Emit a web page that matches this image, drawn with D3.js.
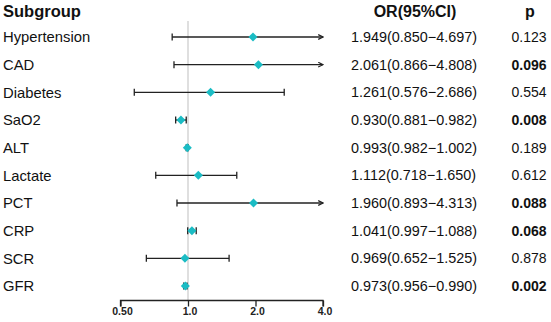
<!DOCTYPE html>
<html><head><meta charset="utf-8">
<script src="https://cdn.jsdelivr.net/npm/d3@7"></script>
<style>body{margin:0;background:#fff}svg{display:block;font-family:"Liberation Sans",Arial,sans-serif}</style>
</head><body><svg id="c" width="551" height="322"></svg>
<script>
const subgroups = ["Hypertension","CAD","Diabetes","SaO2","ALT","Lactate","PCT","CRP","SCR","GFR"];
const orValues = [1.949,2.061,1.261,0.930,0.993,1.112,1.960,1.041,0.969,0.973];
const lowerCI = [0.850,0.866,0.576,0.881,0.982,0.718,0.893,0.997,0.652,0.956];
const upperCI = [4.697,4.808,2.686,0.982,1.002,1.650,4.313,1.088,1.525,0.990];
const orLabels = ["1.949(0.850\u22124.697)","2.061(0.866\u22124.808)","1.261(0.576\u22122.686)","0.930(0.881\u22120.982)","0.993(0.982\u22121.002)","1.112(0.718\u22121.650)","1.960(0.893\u22124.313)","1.041(0.997\u22121.088)","0.969(0.652\u22121.525)","0.973(0.956\u22120.990)"];
const pValues = ["0.123","0.096","0.554","0.008","0.189","0.612","0.088","0.068","0.878","0.002"];
const xTicks = [0.5,1,2,4];
const xTickLabels = ["0.50","1.0","2.0","4.0"];

const svg = d3.select("#c");
const x = d3.scaleLog().base(2).domain([0.5,4]).range([120.5,323]);
const y = d3.scalePoint().domain(subgroups).range([37,286]);
const ink = "#222";
const cyan = "#1bbcc4";

// reference line
svg.append("line").attr("x1",x(1)).attr("x2",x(1)).attr("y1",21).attr("y2",300)
  .attr("stroke","#d4d4d4").attr("stroke-width",1.5);

// axis
const axis = d3.axisBottom(x).tickValues(xTicks).tickFormat((d,i)=>xTickLabels[i]).tickSize(6).tickSizeOuter(0);
const ag = svg.append("g").attr("transform","translate(0,300.5)").call(axis);
ag.select(".domain").attr("stroke",ink).attr("stroke-width",1.3).attr("d",`M${x(0.5)},6V0H${x(4)}V6`);
ag.selectAll(".tick line").attr("stroke",ink).attr("stroke-width",1.3);
ag.selectAll(".tick text").attr("font-size",10.5).attr("font-weight","bold").attr("fill",ink).attr("dy","0.5em").attr("dx",1.5)
  .attr("font-family","'Liberation Sans',Arial,sans-serif");

// arrow marker
const defs = svg.append("defs");
defs.append("marker").attr("id","arr").attr("viewBox","0 0 10 10").attr("refX",9).attr("refY",5)
  .attr("markerWidth",6).attr("markerHeight",6).attr("markerUnits","userSpaceOnUse").attr("orient","auto")
  .append("path").attr("d","M1,1L9,5L1,9").attr("fill","none").attr("stroke",ink).attr("stroke-width",2);

const rows = svg.append("g").selectAll("g").data(subgroups).join("g");
rows.each(function(s,i){
  const g = d3.select(this);
  const yy = y(s);
  const lo = Math.max(lowerCI[i],0.5), hi = Math.min(upperCI[i],4);
  const clipped = upperCI[i] > 4;
  g.append("line").attr("x1",x(lo)).attr("x2",x(hi)).attr("y1",yy).attr("y2",yy)
    .attr("stroke",ink).attr("stroke-width",1.3).attr("marker-end",clipped?"url(#arr)":null);
  g.append("line").attr("x1",x(lo)).attr("x2",x(lo)).attr("y1",yy-3.5).attr("y2",yy+3.5).attr("stroke",ink).attr("stroke-width",1.3);
  if(!clipped) g.append("line").attr("x1",x(hi)).attr("x2",x(hi)).attr("y1",yy-3.5).attr("y2",yy+3.5).attr("stroke",ink).attr("stroke-width",1.3);
  g.append("path").attr("d",d3.symbol(d3.symbolDiamond2,52)())
    .attr("transform",`translate(${x(orValues[i])},${yy})`).attr("fill",cyan);
  g.append("text").attr("x",3).attr("y",yy).attr("dy","0.35em").attr("font-size",14.8).attr("fill","#111").text(s);
  g.append("text").attr("x",351).attr("y",yy).attr("dy","0.35em").attr("font-size",14.4).attr("fill","#111").text(orLabels[i]);
  g.append("text").attr("x",529).attr("y",yy).attr("dy","0.35em").attr("font-size",14).attr("text-anchor","middle")
    .attr("font-weight",+pValues[i]<0.1?"bold":"normal").attr("fill","#111").text(pValues[i]);
});

svg.append("text").attr("x",3).attr("y",11).attr("dy","0.35em").attr("font-size",16.5).attr("font-weight","bold").attr("fill","#111").text("Subgroup");
svg.append("text").attr("x",415).attr("y",11).attr("dy","0.35em").attr("font-size",16).attr("font-weight","bold").attr("text-anchor","middle").attr("fill","#111").text("OR(95%CI)");
svg.append("text").attr("x",530).attr("y",11).attr("dy","0.35em").attr("font-size",16).attr("font-weight","bold").attr("text-anchor","middle").attr("fill","#111").text("p");
</script></body></html>
